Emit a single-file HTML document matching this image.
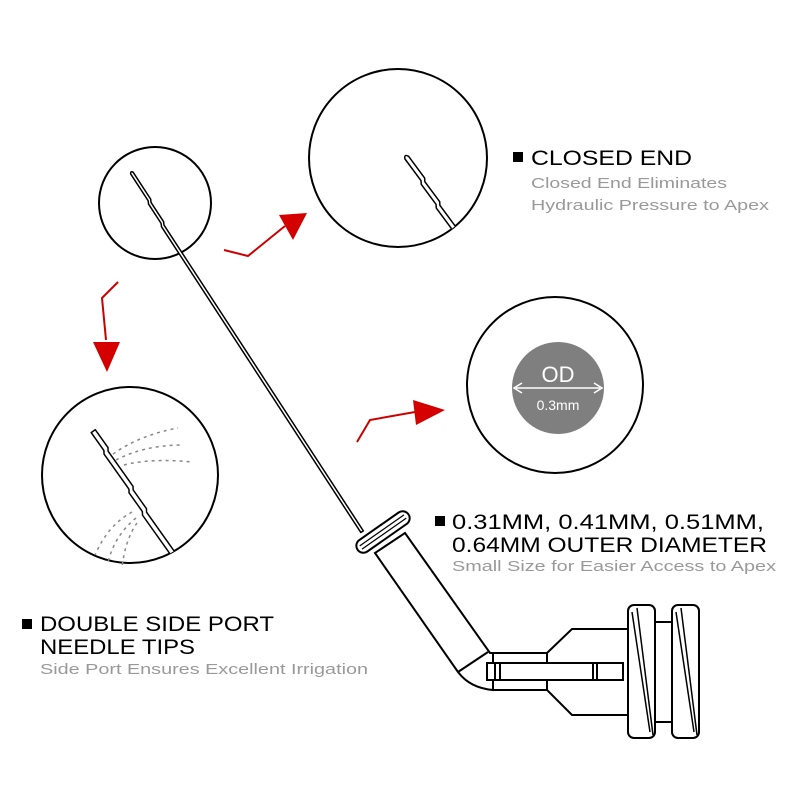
<!DOCTYPE html>
<html><head><style>
body{margin:0;background:#fff;width:800px;height:800px;overflow:hidden}
svg{display:block}
.t{font-family:"Liberation Sans",sans-serif}
</style></head><body>
<svg width="800" height="800" viewBox="0 0 800 800" xmlns="http://www.w3.org/2000/svg">
<defs>
<clipPath id="c2"><circle cx="398" cy="158" r="89"/></clipPath>
<clipPath id="c4"><circle cx="130" cy="475" r="88"/></clipPath>
</defs>
<g fill="none" stroke="#000" stroke-width="2">
<circle cx="155" cy="203" r="56"/>
<circle cx="398" cy="158" r="89"/>
<circle cx="555" cy="385" r="88"/>
<circle cx="130" cy="475" r="88"/>
</g>
<g fill="#fff" stroke="#000" stroke-width="1.5" stroke-linejoin="round">
<g transform="translate(130,172) rotate(56.9)">
<path d="M2,-2.5 L34,-2.5 L37,-1 L60,-1 L63,0.5 L428,0.5 L428,3.5 L63,3.5 L60,2 L37,2 L34,0.5 L2,0.5 Q-1,-1 2,-2.5 Z"/>
</g>
<g clip-path="url(#c2)">
<g transform="translate(404,156) rotate(53.5)">
<path d="M3,-3.5 L30,-3.5 L33,-1.5 L58,-1.5 L61,0.5 L120,0.5 L120,5 L61,5 L58,3 L33,3 L30,1 L3,1 Q-2,-1.2 3,-3.5 Z"/>
</g>
</g>
<g clip-path="url(#c4)">
<g transform="translate(92,432) rotate(54.6)">
<path d="M0,-4 L22,-4 L25,-2 L68,-2 L71,0 L94,0 L97,2 L150,2 L150,7 L97,7 L94,5 L71,5 L68,3 L25,3 L22,1 L0,1 Z"/>
</g>
</g>
</g>
<g fill="none" stroke="#888" stroke-width="1.5" stroke-dasharray="3,4">
<path d="M113 454 Q140 435 178 428"/>
<path d="M116 460 Q145 445 183 445"/>
<path d="M124 465 Q150 458 193 462"/>
<path d="M132 512 Q108 525 95 555"/>
<path d="M136 518 Q115 535 108 562"/>
<path d="M137 523 Q125 540 122 568"/>
</g>
<g fill="#fff" stroke="#000" stroke-width="2">
<path d="M375 553 L405 533 L490 653 L493 653 L493 690 Q470 688 458 672 Z"/>
<path d="M458 672 L488 652"/>
<g transform="translate(383,532) rotate(-35)">
<rect x="-31" y="-7" width="62" height="14" rx="7"/>
<path d="M-27 -2 H27 M-27 2 H27" stroke-width="1.2"/>
</g>
<rect x="493" y="653" width="54" height="37"/>
<path d="M547 653 L572 629 L628 629 L628 715 L572 715 L547 690 Z"/>
<rect x="487" y="663" width="136" height="17"/>
<path d="M495 663 V680 M500 663 V680 M593 663 V680 M597 663 V680"/>
<rect x="655" y="622" width="17" height="100"/>
<rect x="628" y="605" width="27" height="133" rx="6"/>
<rect x="672" y="605" width="27" height="133" rx="6"/>
<path d="M632 612 L650 732 M637 608 L653 735 M676 612 L694 732 M681 608 L697 735" stroke-width="1.5"/>
</g>
<circle cx="558" cy="388" r="46" fill="#7f7f7f"/>
<path d="M516 388 H600" stroke="#fff" stroke-width="1.5"/>
<path d="M522 383 L514 388 L522 393 M594 383 L602 388 L594 393" stroke="#fff" fill="none" stroke-width="1.5"/>
<text x="558" y="382" class="t" fill="#fff" font-size="22" text-anchor="middle">OD</text>
<text x="558" y="410" class="t" fill="#fff" font-size="14" text-anchor="middle">0.3mm</text>
<g stroke="#c00" stroke-width="2" fill="none">
<path d="M224 250 L248 256 L285 226"/>
<path d="M118 282 L102 298 L106 340"/>
<path d="M357 442 L370 420 L415 412"/>
</g>
<g fill="#d40000">
<path d="M279 215 L307 213 L293 240 Z"/>
<path d="M93 342 L120 342 L107 372 Z"/>
<path d="M413 400 L445 410 L416 425 Z"/>
</g>
<rect x="513" y="152" width="10" height="10" fill="#000"/>
<text x="531" y="165" class="t" font-size="21" textLength="161" lengthAdjust="spacingAndGlyphs">CLOSED END</text>
<text x="531" y="188" class="t" font-size="15" fill="#999" textLength="196" lengthAdjust="spacingAndGlyphs">Closed End Eliminates</text>
<text x="531" y="210" class="t" font-size="15" fill="#999" textLength="238" lengthAdjust="spacingAndGlyphs">Hydraulic Pressure to Apex</text>
<rect x="435" y="516" width="10" height="10" fill="#000"/>
<text x="452" y="529" class="t" font-size="21" textLength="312" lengthAdjust="spacingAndGlyphs">0.31MM, 0.41MM, 0.51MM,</text>
<text x="452" y="552" class="t" font-size="21" textLength="315" lengthAdjust="spacingAndGlyphs">0.64MM OUTER DIAMETER</text>
<text x="452" y="571" class="t" font-size="15" fill="#999" textLength="324" lengthAdjust="spacingAndGlyphs">Small Size for Easier Access to Apex</text>
<rect x="22" y="619" width="10" height="10" fill="#000"/>
<text x="40" y="631" class="t" font-size="21" textLength="234" lengthAdjust="spacingAndGlyphs">DOUBLE SIDE PORT</text>
<text x="40" y="654" class="t" font-size="21" textLength="155" lengthAdjust="spacingAndGlyphs">NEEDLE TIPS</text>
<text x="40" y="674" class="t" font-size="15" fill="#999" textLength="328" lengthAdjust="spacingAndGlyphs">Side Port Ensures Excellent Irrigation</text>
</svg>
</body></html>
